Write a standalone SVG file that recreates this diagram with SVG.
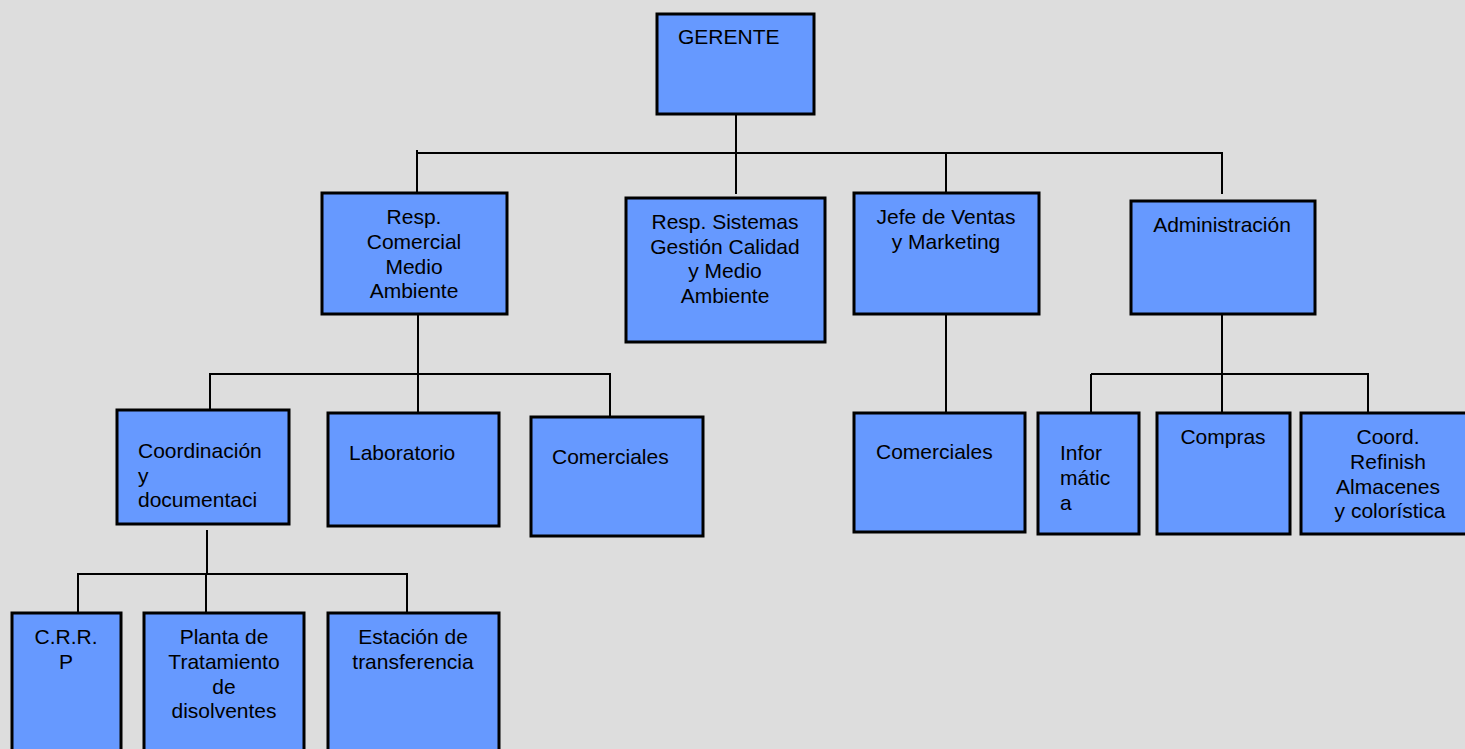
<svg xmlns="http://www.w3.org/2000/svg" width="1465" height="749" viewBox="0 0 1465 749">
<style>
.bg{fill:#dddddd}
.box{fill:#6699ff;stroke:#000;stroke-width:3}
.lbl{font-family:"Liberation Sans",Arial,sans-serif;font-size:21px;fill:#000}
.c{text-anchor:middle}
.conn line{stroke:#000;stroke-width:2;fill:none}
</style>
<rect class="bg" x="0" y="0" width="1465" height="749"/>
<g id="connectors" class="conn">
<line x1="736" y1="114" x2="736" y2="194"/>
<line x1="417" y1="153" x2="1223" y2="153"/>
<line x1="417" y1="150" x2="417" y2="193"/>
<line x1="946" y1="153" x2="946" y2="193"/>
<line x1="1222" y1="153" x2="1222" y2="194"/>
<line x1="418" y1="314" x2="418" y2="413"/>
<line x1="209" y1="374" x2="611" y2="374"/>
<line x1="210" y1="374" x2="210" y2="413"/>
<line x1="610" y1="374" x2="610" y2="417"/>
<line x1="946" y1="314" x2="946" y2="413"/>
<line x1="1222" y1="314" x2="1222" y2="413"/>
<line x1="1091" y1="374" x2="1369" y2="374"/>
<line x1="1091" y1="374" x2="1091" y2="413"/>
<line x1="1368" y1="374" x2="1368" y2="413"/>
<line x1="207" y1="530" x2="207" y2="574"/>
<line x1="77" y1="574" x2="408" y2="574"/>
<line x1="78" y1="574" x2="78" y2="613"/>
<line x1="206" y1="574" x2="206" y2="613"/>
<line x1="407" y1="574" x2="407" y2="613"/>
</g>
<g id="gerente">
<rect class="box" x="657" y="14" width="157" height="100"/>
<text class="lbl" x="678" y="44">GERENTE</text>
</g>
<g id="resp-comercial">
<rect class="box" x="322" y="193" width="185" height="121"/>
<text class="lbl c" x="414" y="224">Resp.</text>
<text class="lbl c" x="414" y="249">Comercial</text>
<text class="lbl c" x="414" y="274">Medio</text>
<text class="lbl c" x="414" y="298">Ambiente</text>
</g>
<g id="resp-sistemas">
<rect class="box" x="626" y="198" width="199" height="144"/>
<text class="lbl c" x="725" y="229">Resp. Sistemas</text>
<text class="lbl c" x="725" y="254">Gestión Calidad</text>
<text class="lbl c" x="725" y="278">y Medio</text>
<text class="lbl c" x="725" y="303">Ambiente</text>
</g>
<g id="jefe-ventas">
<rect class="box" x="854" y="193" width="185" height="121"/>
<text class="lbl c" x="946" y="224">Jefe de Ventas</text>
<text class="lbl c" x="946" y="249">y Marketing</text>
</g>
<g id="administracion">
<rect class="box" x="1131" y="201" width="184" height="113"/>
<text class="lbl c" x="1222" y="232">Administración</text>
</g>
<g id="coordinacion">
<rect class="box" x="117" y="410" width="172" height="114"/>
<text class="lbl" x="138" y="458">Coordinación</text>
<text class="lbl" x="138" y="483">y</text>
<text class="lbl" x="138" y="507">documentaci</text>
</g>
<g id="laboratorio">
<rect class="box" x="328" y="413" width="171" height="113"/>
<text class="lbl" x="349" y="460">Laboratorio</text>
</g>
<g id="comerciales-1">
<rect class="box" x="531" y="417" width="172" height="119"/>
<text class="lbl" x="552" y="464">Comerciales</text>
</g>
<g id="comerciales-2">
<rect class="box" x="854" y="413" width="171" height="119"/>
<text class="lbl" x="876" y="459">Comerciales</text>
</g>
<g id="informatica">
<rect class="box" x="1038" y="413" width="101" height="121"/>
<text class="lbl" x="1060" y="460">Infor</text>
<text class="lbl" x="1060" y="485">mátic</text>
<text class="lbl" x="1060" y="510">a</text>
</g>
<g id="compras">
<rect class="box" x="1157" y="413" width="133" height="121"/>
<text class="lbl c" x="1223" y="444">Compras</text>
</g>
<g id="coord-refinish">
<rect class="box" x="1301" y="413" width="167" height="121"/>
<text class="lbl c" x="1388" y="444">Coord.</text>
<text class="lbl c" x="1388" y="469">Refinish</text>
<text class="lbl c" x="1388" y="494">Almacenes</text>
<text class="lbl c" x="1390" y="518">y colorística</text>
</g>
<g id="crrp">
<rect class="box" x="12" y="613" width="109" height="140"/>
<text class="lbl c" x="66" y="644">C.R.R.</text>
<text class="lbl c" x="66" y="669">P</text>
</g>
<g id="planta">
<rect class="box" x="144" y="613" width="160" height="140"/>
<text class="lbl c" x="224" y="644">Planta de</text>
<text class="lbl c" x="224" y="669">Tratamiento</text>
<text class="lbl c" x="224" y="694">de</text>
<text class="lbl c" x="224" y="718">disolventes</text>
</g>
<g id="estacion">
<rect class="box" x="328" y="613" width="171" height="140"/>
<text class="lbl c" x="413" y="644">Estación de</text>
<text class="lbl c" x="413" y="669">transferencia</text>
</g>
</svg>
